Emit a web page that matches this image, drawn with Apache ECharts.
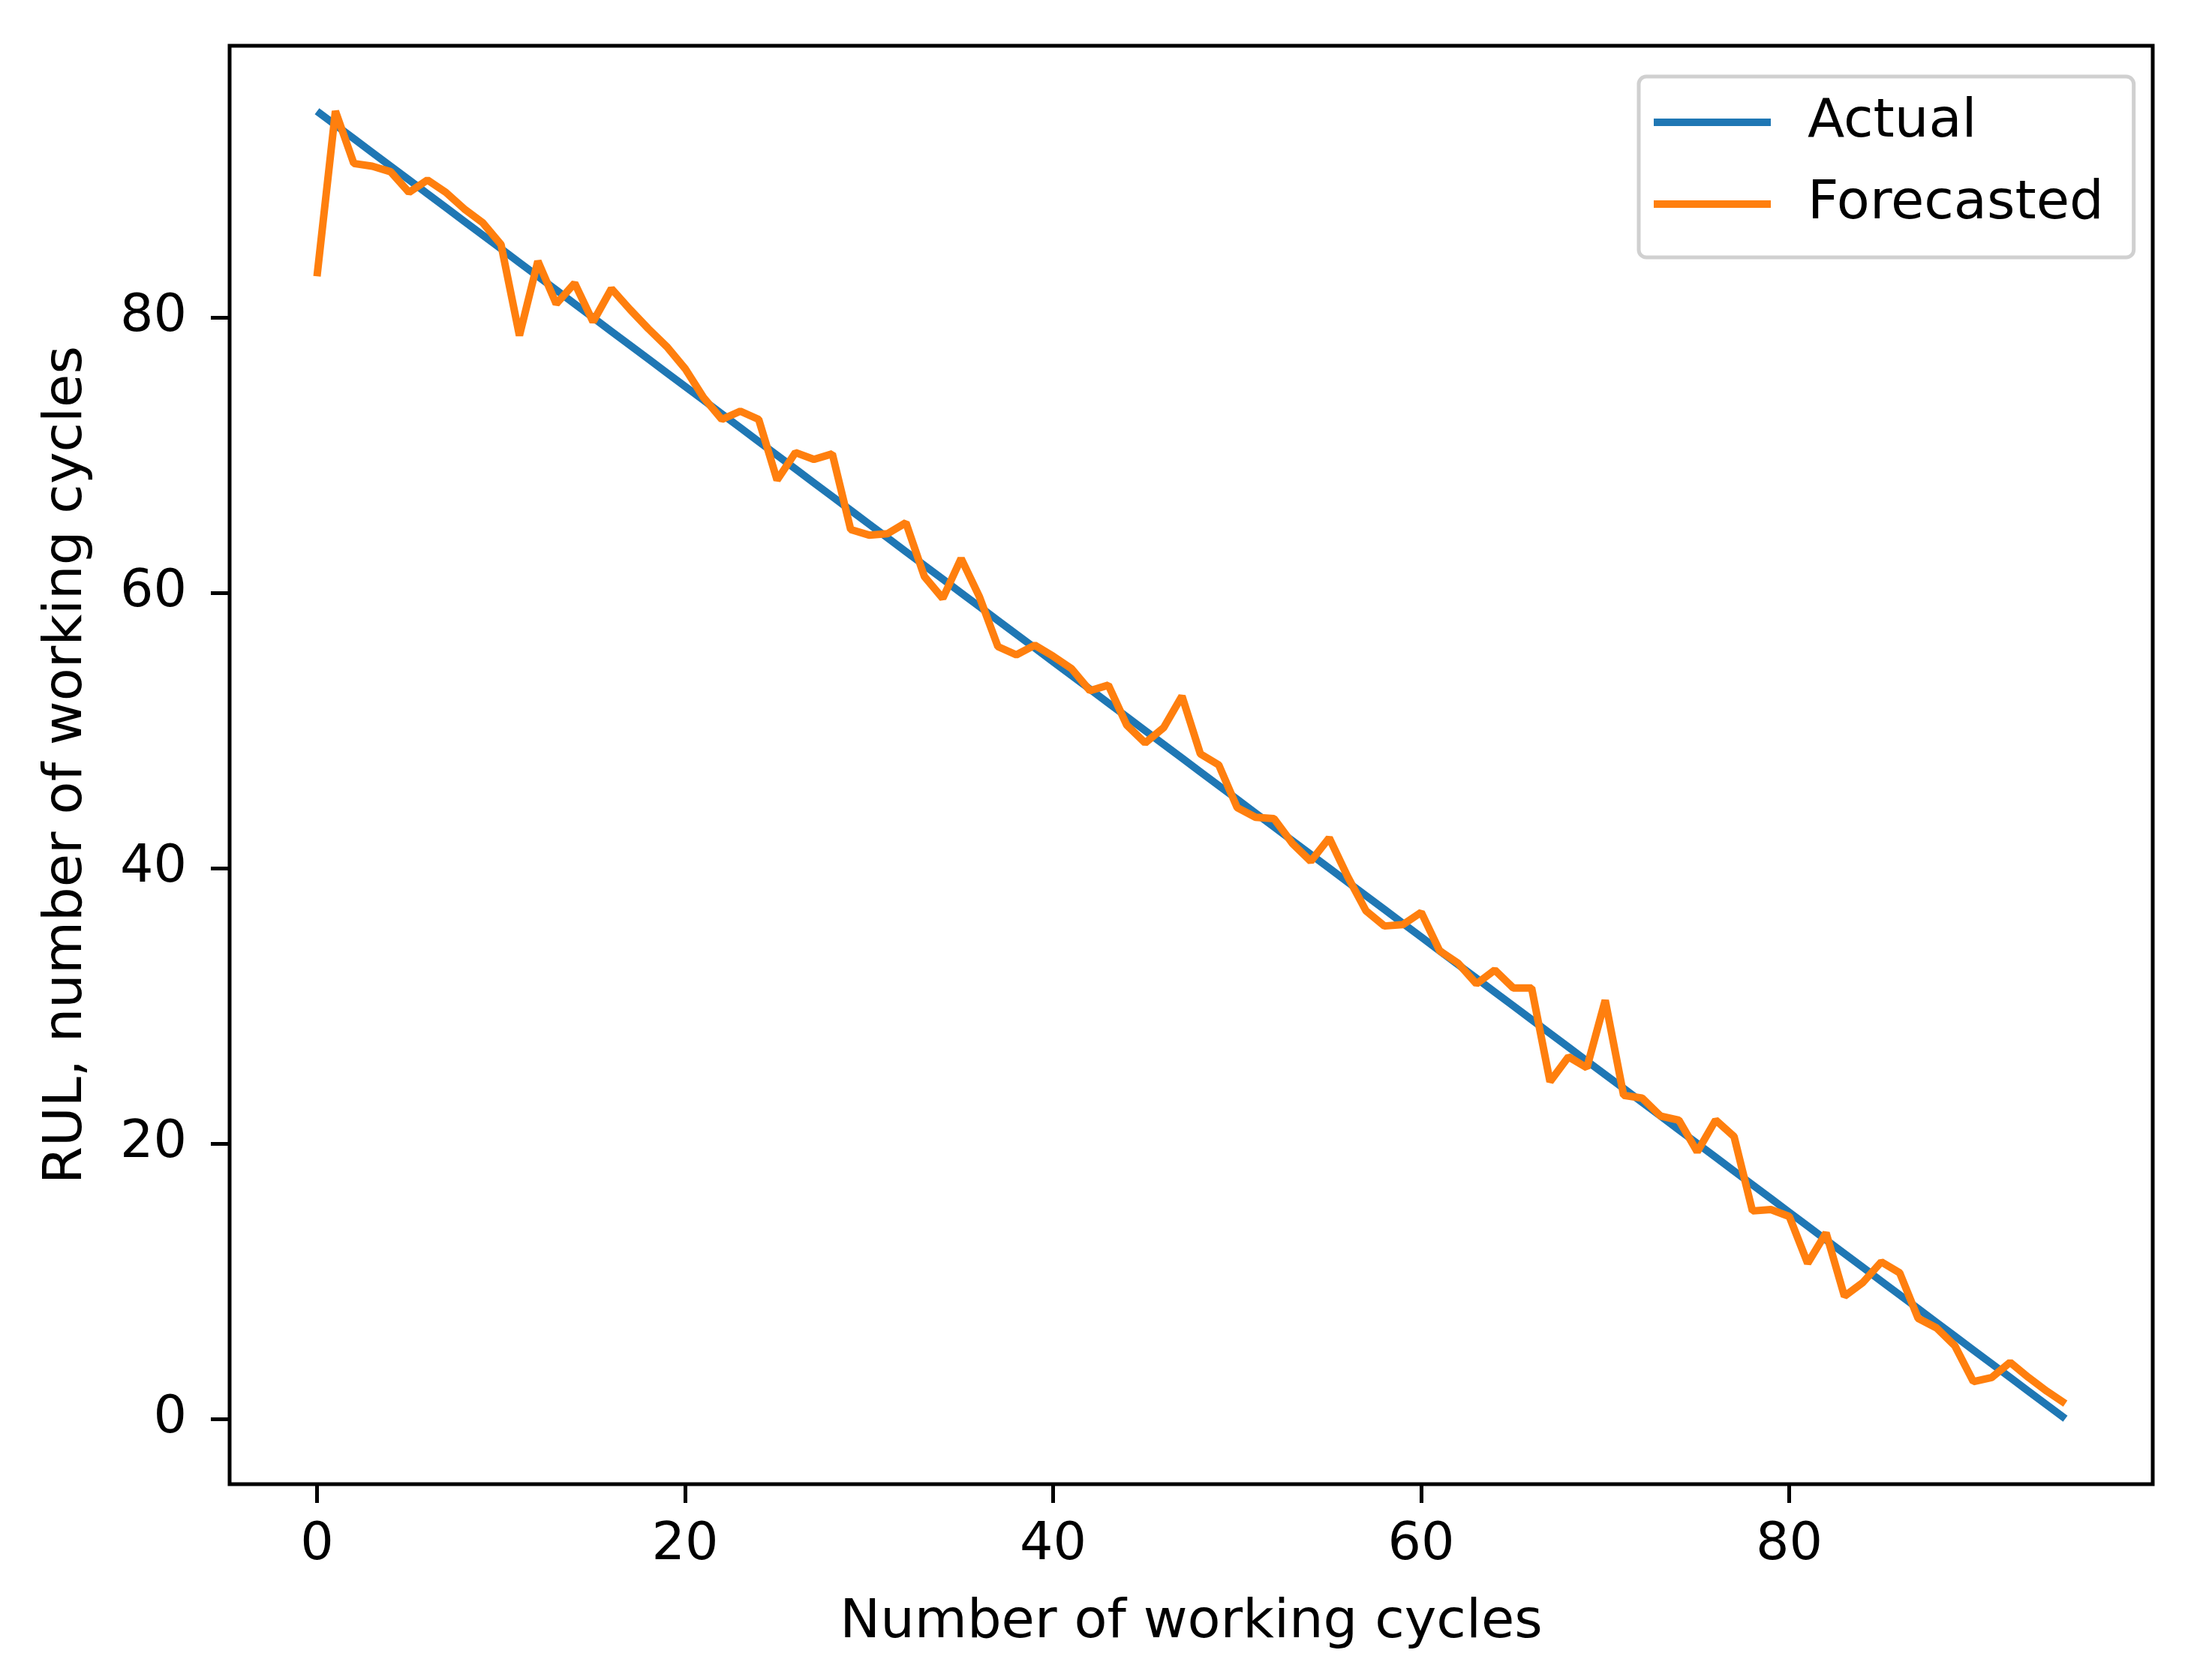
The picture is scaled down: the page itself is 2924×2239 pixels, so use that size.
<!DOCTYPE html>
<html>
<head>
<meta charset="utf-8">
<script src="https://cdn.jsdelivr.net/npm/echarts@6/dist/echarts.min.js"></script>
<style>
  html, body { margin: 0; padding: 0; background: #ffffff; }
  #chart { width: 2924px; height: 2239px; }
</style>
</head>
<body>
<div id="chart"></div>
<script>
const cycles = [0,1,2,3,4,5,6,7,8,9,10,11,12,13,14,15,16,17,18,19,20,21,22,23,24,25,26,27,28,29,30,31,32,33,34,35,36,37,38,39,40,41,42,43,44,45,46,47,48,49,50,51,52,53,54,55,56,57,58,59,60,61,62,63,64,65,66,67,68,69,70,71,72,73,74,75,76,77,78,79,80,81,82,83,84,85,86,87,88,89,90,91,92,93,94,95];
const actual = [95,94,93,92,91,90,89,88,87,86,85,84,83,82,81,80,79,78,77,76,75,74,73,72,71,70,69,68,67,66,65,64,63,62,61,60,59,58,57,56,55,54,53,52,51,50,49,48,47,46,45,44,43,42,41,40,39,38,37,36,35,34,33,32,31,30,29,28,27,26,25,24,23,22,21,20,19,18,17,16,15,14,13,12,11,10,9,8,7,6,5,4,3,2,1,0];
const forecasted = [83.0,95.0,91.2,91.0,90.6,89.1,90.0,89.1,87.9,86.9,
  85.3,78.7,84.1,81.0,82.5,79.7,82.1,80.6,79.2,77.9,
  76.3,74.2,72.6,73.2,72.6,68.2,70.2,69.7,70.1,64.6,
  64.2,64.3,65.1,61.2,59.6,62.5,59.7,56.1,55.5,56.2,
  55.4,54.5,52.9,53.3,50.4,49.1,50.2,52.5,48.3,47.5,
  44.4,43.7,43.6,41.8,40.5,42.2,39.4,36.9,35.8,35.9,
  36.8,34.0,33.1,31.6,32.6,31.3,31.3,24.5,26.3,25.5,
  30.4,23.5,23.3,22.0,21.7,19.4,21.7,20.5,15.1,15.2,
  14.7,11.3,13.5,8.9,9.9,11.4,10.6,7.3,6.6,5.3,
  2.7,3.0,4.1,3.0,2.0,1.1];
const xTicks = [0,20,40,60,80];
const yTicks = [0,20,40,60,80];
const seriesNames = ['Actual','Forecasted'];
const xTitle = 'Number of working cycles';
const yTitle = 'RUL, number of working cycles';

const FONT = 'DejaVu Sans';
const FS_TICK = 70;
const FS_NAME = 72;
const FS_LEG = 72;

const chart = echarts.init(document.getElementById('chart'), null, {renderer: 'canvas'});
chart.setOption({
  animation: false,
  backgroundColor: '#ffffff',
  textStyle: { fontFamily: FONT, color: '#000000' },
  grid: {
    left: 306, right: 55, top: 61, bottom: 261,
    show: true, borderColor: '#000000', borderWidth: 5, backgroundColor: 'transparent'
  },
  legend: {
    orient: 'vertical',
    left: 2184, top: 102,
    padding: [20, 40, 30, 20],
    itemWidth: 156, itemHeight: 10, itemGap: 27,
    icon: 'rect',
    borderColor: '#d0d0d0', borderWidth: 5, borderRadius: 10,
    backgroundColor: 'rgba(255,255,255,0.8)',
    textStyle: { fontFamily: FONT, fontSize: FS_LEG, color: '#000000', padding: [0,0,0,44], lineHeight: 82 },
    data: seriesNames
  },
  xAxis: {
    type: 'value', min: -4.75, max: 99.75,
    name: xTitle, nameLocation: 'middle', nameGap: 144,
    nameTextStyle: { fontFamily: FONT, fontSize: FS_NAME, color: '#000000', lineHeight: 82 },
    axisLine: { show: false, onZero: false },
    splitLine: { show: false },
    axisTick: { show: true, inside: false, length: 25, customValues: xTicks, lineStyle: { color: '#000000', width: 5 } },
    axisLabel: { show: true, customValues: xTicks, margin: 42, fontFamily: FONT, fontSize: FS_TICK, color: '#000000', lineHeight: 80 }
  },
  yAxis: {
    type: 'value', min: -4.75, max: 99.75,
    name: yTitle, nameLocation: 'middle', nameGap: 176, nameRotate: 90,
    nameTextStyle: { fontFamily: FONT, fontSize: FS_NAME, color: '#000000', lineHeight: 82 },
    axisLine: { show: false, onZero: false },
    splitLine: { show: false },
    axisTick: { show: true, inside: false, length: 25, customValues: yTicks, lineStyle: { color: '#000000', width: 5 } },
    axisLabel: { show: true, customValues: yTicks, margin: 57, fontFamily: FONT, fontSize: FS_TICK, color: '#000000' }
  },
  series: [
    {
      name: seriesNames[0], type: 'line', symbol: 'none', showSymbol: false,
      data: cycles.map((c, i) => [c, actual[i]]),
      lineStyle: { color: '#1f77b4', width: 10 }, itemStyle: { color: '#1f77b4' },
      z: 2
    },
    {
      name: seriesNames[1], type: 'line', symbol: 'none', showSymbol: false,
      data: cycles.map((c, i) => [c, forecasted[i]]),
      lineStyle: { color: '#ff7f0e', width: 10 }, itemStyle: { color: '#ff7f0e' },
      z: 3
    }
  ]
});
</script>
</body>
</html>
